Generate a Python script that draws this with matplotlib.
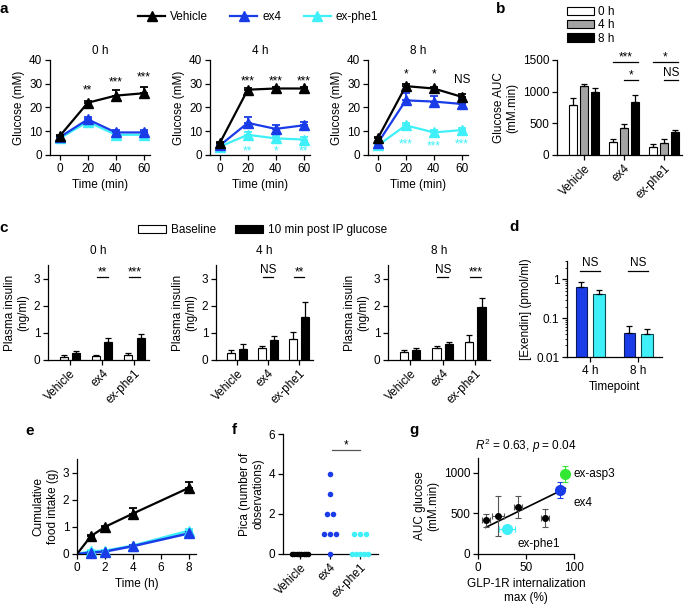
import numpy as np
import matplotlib
matplotlib.use('Agg')
import matplotlib.pyplot as plt
from matplotlib.patches import Patch
from matplotlib.lines import Line2D

FS = 8.5
plt.rcParams['font.family'] = ['Liberation Sans', 'DejaVu Sans']
plt.rcParams['font.size'] = FS
plt.rcParams['axes.linewidth'] = 0.9
plt.rcParams['xtick.major.width'] = 0.9
plt.rcParams['ytick.major.width'] = 0.9
plt.rcParams['xtick.major.size'] = 3.5
plt.rcParams['ytick.major.size'] = 3.5
plt.rcParams['mathtext.fontset'] = 'custom'
plt.rcParams['mathtext.rm'] = 'Liberation Sans'
plt.rcParams['mathtext.it'] = 'Liberation Sans:italic'

# ---------------- data ----------------
treatments = ['Vehicle', 'ex4', 'ex-phe1']
treat_colors = ['#000000', '#1a3ce8', '#3ff0f8']

# panel a: IPGTT glucose (rows: Vehicle, ex4, ex-phe1)
ipgtt_time = [0, 20, 40, 60]
ipgtt_titles = ['0 h', '4 h', '8 h']
glucose_0h = [[8, 22, 25, 26], [7.5, 15, 9.5, 9.5], [7, 14, 8.5, 8.5]]
glucose_0h_err = [[0.5, 0.8, 2.5, 2.8], [0.5, 1.0, 1.0, 1.0], [0.5, 0.8, 0.8, 0.8]]
glucose_4h = [[5, 27.5, 28, 28], [4, 13.5, 11, 12.5], [3.5, 8.5, 7, 6.5]]
glucose_4h_err = [[0.5, 0.6, 0.8, 0.8], [0.5, 2.5, 1.5, 1.5], [0.5, 1.0, 1.0, 1.0]]
glucose_8h = [[7, 29, 28, 24.5], [5, 23, 22.5, 21.5], [4, 12.5, 9.5, 10.5]]
glucose_8h_err = [[0.5, 0.8, 0.8, 1.0], [0.5, 3.0, 2.5, 2.0], [0.5, 1.0, 1.0, 1.0]]
sig_a_0h = [(20, 28, '**', 0), (40, 31.5, '***', 0), (60, 33.5, '***', 0)]
sig_a_4h = [(20, 32, '***', 0), (40, 32, '***', 0), (60, 32, '***', 0),
            (20, 2.5, '**', 2), (40, 2.5, '*', 2), (60, 2.5, '**', 2)]
sig_a_8h = [(20, 35, '*', 0), (40, 35, '*', 0), (60, 31.5, 'NS', 0),
            (20, 5.2, '***', 2), (40, 4.5, '***', 2), (60, 5.2, '***', 2)]

# panel b: glucose AUC (rows: 0 h, 4 h, 8 h; cols: treatments)
auc_labels = ['0 h', '4 h', '8 h']
auc_colors = ['white', '#a3a3a3', 'black']
auc_mean = [[790, 200, 120], [1090, 420, 195], [990, 840, 360]]
auc_err = [[110, 60, 50], [30, 70, 50], [70, 110, 40]]

# panel c: plasma insulin (cols: treatments)
insulin_titles = ['0 h', '4 h', '8 h']
insulin_base = [[0.12, 0.13, 0.18], [0.27, 0.45, 0.78], [0.28, 0.45, 0.68]]
insulin_base_err = [[0.05, 0.05, 0.06], [0.09, 0.08, 0.25], [0.08, 0.08, 0.23]]
insulin_post = [[0.25, 0.65, 0.80], [0.42, 0.75, 1.60], [0.38, 0.58, 1.95]]
insulin_post_err = [[0.08, 0.15, 0.17], [0.17, 0.12, 0.55], [0.07, 0.10, 0.32]]
insulin_sig = [['**', '***'], ['NS', '**'], ['NS', '***']]

# panel d: exendin concentration
exendin_timepoints = ['4 h', '8 h']
exendin_ex4 = [0.63, 0.041]
exendin_ex4_err = [0.22, 0.023]
exendin_phe1 = [0.43, 0.039]
exendin_phe1_err = [0.10, 0.015]

# panel e: food intake
food_time = [0, 1, 2, 4, 8]
food_vehicle = [0, 0.66, 1.0, 1.49, 2.44]
food_vehicle_err = [0, 0.05, 0.05, 0.2, 0.23]
food_ex4 = [0, 0.05, 0.09, 0.29, 0.76]
food_ex4_err = [0, 0.03, 0.03, 0.04, 0.05]
food_phe1 = [0, 0.1, 0.12, 0.31, 0.86]
food_phe1_err = [0, 0.03, 0.03, 0.04, 0.05]

# panel f: pica
pica_vehicle = [0, 0, 0, 0, 0, 0, 0, 0]
pica_ex4 = [4, 3, 2, 2, 1, 1, 1, 0]
pica_phe1 = [1, 1, 1, 0, 0, 0, 0, 0]

# panel g: internalization vs AUC
intern_max = [8, 21, 42, 70, 30, 85, 91]
intern_err = [4, 6, 4, 4, 8.5, 4, 3]
auc_glucose = [413, 463, 578, 440, 305, 785, 985]
auc_glucose_err = [75, 245, 135, 108, 40, 100, 95]
g_names = ['', '', '', '', 'ex-phe1', 'ex4', 'ex-asp3']
g_colors = ['black', 'black', 'black', 'black', '#3ff0f8', '#1a3ce8', '#33e833']

# ---------------- figure ----------------
W, H = 685, 608
fig = plt.figure(figsize=(W / 100, H / 100), dpi=100)


def add_ax(l, t, r, b):
    return fig.add_axes([l / W, 1 - b / H, (r - l) / W, (b - t) / H])


def style(ax):
    ax.spines['top'].set_visible(False)
    ax.spines['right'].set_visible(False)
    ax.tick_params(direction='out', length=3.5, width=0.9, pad=2)


def rot_labels(ax, labels):
    ax.set_xticklabels(labels, rotation=45, ha='right', rotation_mode='anchor')


def sig(ax, x1, x2, y, text, color='black'):
    ax.plot([x1, x2], [y, y], color=color, lw=0.9, clip_on=False)
    ax.annotate(text, ((x1 + x2) / 2, y), xytext=(0, 1 if text == 'NS' else -1),
                textcoords='offset points', ha='center', va='bottom',
                fontsize=FS, color=color, annotation_clip=False)


def panel_label(x, y, s):
    fig.text(x / W, 1 - y / H, s, fontsize=11, fontweight='bold', ha='center', va='center')


# ----- panel a -----
glucose_sets = [(glucose_0h, glucose_0h_err, sig_a_0h),
                (glucose_4h, glucose_4h_err, sig_a_4h),
                (glucose_8h, glucose_8h_err, sig_a_8h)]
a_boxes = [(50, 150), (210, 310), (368, 468)]
for k, (l, r) in enumerate(a_boxes):
    ax = add_ax(l, 60, r, 155)
    style(ax)
    means, errs, sigs = glucose_sets[k]
    for i in [2, 1, 0]:
        m = np.array(means[i], float)
        e = np.array(errs[i], float)
        ax.errorbar(ipgtt_time, m, yerr=[np.zeros_like(e), e], color=treat_colors[i],
                    lw=1.6, marker='^', ms=6.5, capsize=3, capthick=1.3, elinewidth=1.3,
                    zorder=3 + (2 - i), clip_on=False)
    for (x, y, s, ci) in sigs:
        ax.annotate(s, (x, y), xytext=(0, -1.5 if '*' in s else 0), textcoords='offset points',
                    ha='center', va='center', fontsize=FS, color=treat_colors[ci],
                    annotation_clip=False)
    ax.set_xlim(-7, 64.5)
    ax.set_ylim(0, 40)
    ax.set_xticks(ipgtt_time)
    ax.set_yticks([0, 10, 20, 30, 40])
    ax.set_title(ipgtt_titles[k], fontsize=FS, pad=4)
    ax.set_xlabel('Time (min)', labelpad=3)
    ax.set_ylabel('Glucose (mM)', labelpad=3)

a_handles = [Line2D([], [], color=c, lw=1.6, marker='^', ms=6.5) for c in treat_colors]
fig.legend(a_handles, treatments, loc='center', bbox_to_anchor=(258 / W, 1 - 17 / H), ncol=3,
           frameon=False, handlelength=2.3, columnspacing=1.9, handletextpad=0.4, fontsize=FS)

# ----- panel b -----
axb = add_ax(557, 60, 682, 155)
style(axb)
xb = np.arange(len(treatments))
for j in range(3):
    e = np.array(auc_err[j], float)
    axb.bar(xb + (j - 1) * 0.28, auc_mean[j], 0.2, yerr=[np.zeros_like(e), e],
            color=auc_colors[j], edgecolor='black', lw=0.8,
            error_kw=dict(capsize=2, elinewidth=0.9, capthick=0.9), label=auc_labels[j])
axb.set_xlim(-0.675, 2.45)
axb.set_ylim(0, 1500)
axb.set_yticks([0, 500, 1000, 1500])
axb.set_xticks(xb)
rot_labels(axb, treatments)
axb.set_ylabel('Glucose AUC\n(mM.min)', labelpad=3)
sig(axb, 1 - 0.28, 1 + 0.34, 1470, '***')
sig(axb, 1 + 0.0, 1 + 0.34, 1180, '*')
sig(axb, 2 - 0.28, 2 + 0.34, 1470, '*')
sig(axb, 2 + 0.0, 2 + 0.34, 1180, 'NS')
b_handles = [Patch(facecolor=c, edgecolor='black', lw=0.8) for c in auc_colors]
fig.legend(b_handles, auc_labels, loc='upper left', bbox_to_anchor=(566 / W, 1 - 5 / H),
           borderaxespad=0, borderpad=0.1, frameon=False, handlelength=2.3, handleheight=0.7,
           labelspacing=0.1, handletextpad=0.3, fontsize=FS)

# ----- panel c -----
c_boxes = [(48, 149), (216, 313), (388, 490)]
xc = np.arange(len(treatments))
for k, (l, r) in enumerate(c_boxes):
    ax = add_ax(l, 265, r, 360)
    style(ax)
    eb = np.array(insulin_base_err[k], float)
    ep = np.array(insulin_post_err[k], float)
    ax.bar(xc - 0.19, insulin_base[k], 0.25, yerr=[np.zeros_like(eb), eb], color='white',
           edgecolor='black', lw=0.8, error_kw=dict(capsize=2, elinewidth=0.9, capthick=0.9))
    ax.bar(xc + 0.19, insulin_post[k], 0.25, yerr=[np.zeros_like(ep), ep], color='black',
           edgecolor='black', lw=0.8, error_kw=dict(capsize=2, elinewidth=0.9, capthick=0.9))
    for g in range(2):
        sig(ax, xc[g + 1] - 0.17, xc[g + 1] + 0.17, 3.05, insulin_sig[k][g])
    ax.set_xlim(-0.68, 2.45)
    ax.set_ylim(0, 3.5)
    ax.set_yticks([0, 1, 2, 3])
    ax.set_xticks(xc)
    rot_labels(ax, treatments)
    ax.set_title(insulin_titles[k], fontsize=FS, pad=8)
    ax.set_ylabel('Plasma insulin\n(ng/ml)', labelpad=3)

c_handles = [Patch(facecolor='white', edgecolor='black', lw=0.8),
             Patch(facecolor='black', edgecolor='black', lw=0.8)]
fig.legend(c_handles, ['Baseline', '10 min post IP glucose'], loc='center',
           bbox_to_anchor=(263 / W, 1 - 230 / H), ncol=2, frameon=False,
           handlelength=2.3, handleheight=0.7, columnspacing=1.6, handletextpad=0.5, fontsize=FS)

# ----- panel d -----
axd = add_ax(567, 261, 662, 357)
style(axd)
axd.set_yscale('log')
xd = np.arange(len(exendin_timepoints))
e4 = np.array(exendin_ex4_err)
ep1 = np.array(exendin_phe1_err)
axd.bar(xd - 0.18, exendin_ex4, 0.24, yerr=[np.zeros_like(e4), e4], color=treat_colors[1],
        edgecolor='#0a1a60', lw=0.8, error_kw=dict(capsize=2, elinewidth=0.9, capthick=0.9))
axd.bar(xd + 0.19, exendin_phe1, 0.24, yerr=[np.zeros_like(ep1), ep1], color=treat_colors[2],
        edgecolor='#0a4a50', lw=0.8, error_kw=dict(capsize=2, elinewidth=0.9, capthick=0.9))
for g in range(2):
    axd.plot([xd[g] - 0.2, xd[g] + 0.2], [1.7, 1.7], color='black', lw=0.9, clip_on=False)
    axd.annotate('NS', (xd[g], 1.7), xytext=(0, 1), textcoords='offset points',
                 ha='center', va='bottom', fontsize=FS, annotation_clip=False)
axd.set_ylim(0.01, 3)
axd.set_xlim(-0.48, 1.5)
axd.set_yticks([0.01, 0.1, 1])
axd.set_yticklabels(['0.01', '0.1', '1'])
axd.tick_params(axis='y', which='minor', length=1.8, width=0.6)
axd.set_xticks(xd)
axd.set_xticklabels(exendin_timepoints)
axd.set_xlabel('Timepoint', labelpad=3)
axd.set_ylabel('[Exendin] (pmol/ml)', labelpad=3)

# ----- panel e -----
axe = add_ax(77, 459, 196, 554)
style(axe)
food_sets = [(food_phe1, food_phe1_err, 2), (food_ex4, food_ex4_err, 1),
             (food_vehicle, food_vehicle_err, 0)]
for m, e, ci in food_sets:
    e = np.array(e, float)
    axe.plot(food_time, m, color=treat_colors[ci], lw=1.8 if ci else 1.6, zorder=3)
    axe.errorbar(food_time[1:], m[1:], yerr=[np.zeros_like(e[1:]), e[1:]], color=treat_colors[ci],
                 lw=0, marker='^', ms=6.5, capsize=3, capthick=1.3, elinewidth=1.3, zorder=4,
                 clip_on=False)
axe.set_xlim(0, 8.5)
axe.set_ylim(0, 3.5)
axe.set_xticks([0, 2, 4, 6, 8])
axe.set_yticks([0, 1, 2, 3])
axe.set_xlabel('Time (h)', labelpad=3)
axe.set_ylabel('Cumulative\nfood intake (g)', labelpad=3)

# ----- panel f -----
axf = add_ax(283, 434, 378, 554)
style(axf)
pica_sets = [pica_vehicle, pica_ex4, pica_phe1]
for gi, vals in enumerate(pica_sets):
    vals = np.array(vals)
    xs = np.zeros(len(vals), float)
    for v in np.unique(vals):
        idx = np.where(vals == v)[0]
        n = len(idx)
        if n > 1:
            half = min(0.1 * (n - 1), 0.27)
            xs[idx] = np.linspace(-half, half, n)
    axf.scatter(gi + xs, vals, s=16, color=treat_colors[gi], zorder=3, clip_on=False, lw=0)
axf.plot([1.07, 2.0], [5.2, 5.2], color='#555555', lw=0.9)
axf.annotate('*', (1.53, 5.2), xytext=(0, -1), textcoords='offset points', ha='center',
             va='bottom', fontsize=FS)
axf.set_xlim(-0.57, 2.6)
axf.set_ylim(0, 6)
axf.set_yticks([0, 2, 4, 6])
axf.set_xticks(np.arange(3))
rot_labels(axf, treatments)
axf.set_ylabel('Pica (number of\nobservations)', labelpad=3)

# ----- panel g -----
axg = add_ax(478, 458, 574, 554)
style(axg)
for i in range(len(intern_max)):
    big = g_names[i] != ''
    ecol = '#555555' if not big else g_colors[i]
    axg.errorbar(intern_max[i], auc_glucose[i], xerr=intern_err[i], yerr=auc_glucose_err[i],
                 fmt='o', color=g_colors[i], ecolor=ecol, ms=7 if big else 4,
                 elinewidth=0.8, capsize=2, capthick=0.8, alpha=1, zorder=3)
fit = np.polyfit(intern_max, auc_glucose, 1)
xfit = np.array([min(intern_max), max(intern_max)])
axg.plot(xfit, np.polyval(fit, xfit), color='black', lw=1.2, zorder=2)
axg.annotate('ex-asp3', (intern_max[6], auc_glucose[6]), xytext=(6, 0), textcoords='offset points',
             ha='left', va='center', fontsize=FS)
axg.annotate('ex4', (intern_max[5], auc_glucose[5]), xytext=(10, -9), textcoords='offset points',
             ha='left', va='center', fontsize=FS)
axg.annotate('ex-phe1', (intern_max[4], auc_glucose[4]), xytext=(8, -11), textcoords='offset points',
             ha='left', va='center', fontsize=FS)
axg.set_xlim(0, 100)
axg.set_ylim(0, 1180)
axg.set_xticks([0, 50, 100])
axg.set_yticks([0, 500, 1000])
axg.set_title('$R^2$ = 0.63, $p$ = 0.04', fontsize=FS, pad=6)
axg.set_xlabel('GLP-1R internalization\nmax (%)', labelpad=3)
axg.set_ylabel('AUC glucose\n(mM.min)', labelpad=3)

# panel labels
panel_label(4, 9, 'a')
panel_label(501, 9, 'b')
panel_label(4, 228, 'c')
panel_label(514, 227, 'd')
panel_label(30, 431, 'e')
panel_label(234, 430, 'f')
panel_label(414, 430, 'g')

fig.savefig('out.png', dpi=100)
